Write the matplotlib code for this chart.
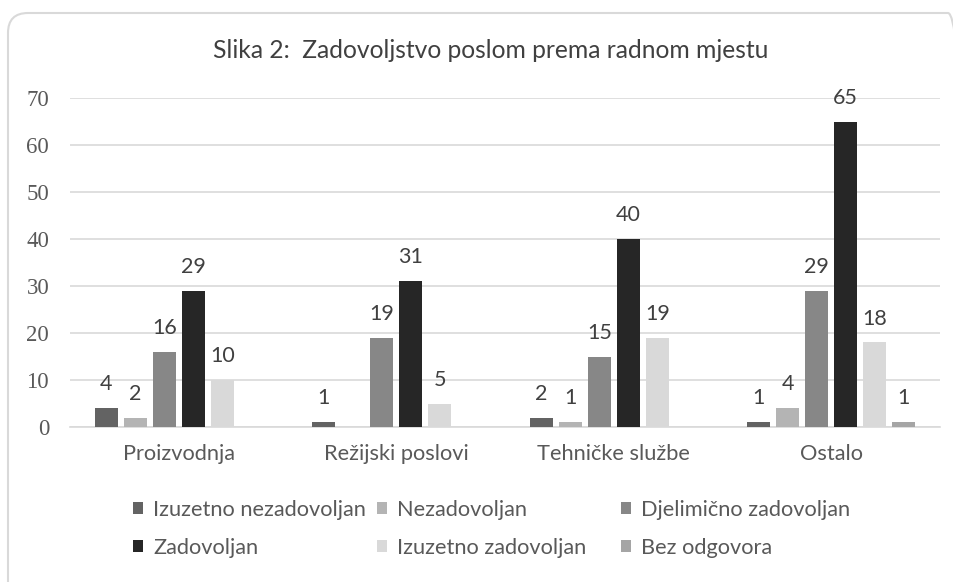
import matplotlib.pyplot as plt
from matplotlib.patches import FancyBboxPatch, Patch

# chart data
categories = ['Proizvodnja', 'Režijski poslovi', 'Tehničke službe', 'Ostalo']
series = ['Izuzetno nezadovoljan', 'Nezadovoljan', 'Djelimično zadovoljan',
          'Zadovoljan', 'Izuzetno zadovoljan', 'Bez odgovora']
izuzetno_nezadovoljan = [4, 1, 2, 1]
nezadovoljan = [2, 0, 1, 4]
djelimicno_zadovoljan = [16, 19, 15, 29]
zadovoljan = [29, 31, 40, 65]
izuzetno_zadovoljan = [10, 5, 19, 18]
bez_odgovora = [0, 0, 0, 1]
values = [izuzetno_nezadovoljan, nezadovoljan, djelimicno_zadovoljan,
          zadovoljan, izuzetno_zadovoljan, bez_odgovora]
colors = ['#636363', '#b4b4b4', '#878787', '#262626', '#d9d9d9', '#a5a5a5']
yticks = [0, 10, 20, 30, 40, 50, 60, 70]

sans = ['Lato', 'DejaVu Sans']
serif = ['Liberation Serif', 'DejaVu Serif']

fig = plt.figure(figsize=(9.54, 5.82), dpi=100)
ax = fig.add_axes([70/954, 155/582, 870/954, (427-98)/582])

# rounded frame around the whole chart (in inches), running off right/bottom
frame = FancyBboxPatch((0.08, -0.5), 9.6, 5.69 + 0.5,
                       boxstyle='round,pad=0,rounding_size=0.2',
                       transform=fig.dpi_scale_trans, fill=False,
                       edgecolor='#d9d9d9', linewidth=1.5)
fig.patches.append(frame)

step = 0.1333
width = 0.106
x = list(range(len(categories)))
for i in range(len(series)):
    pos = [xi + (i - 2.5) * step for xi in x]
    bars = ax.bar(pos, values[i], width=width, color=colors[i], zorder=3)
    labels = [str(v) if v > 0 else '' for v in values[i]]
    ax.bar_label(bars, labels=labels, padding=10, fontsize=15.5,
                 color='#404040', family=sans)

ax.set_xlim(-0.5, 3.5)
ax.set_ylim(0, 70)
ax.set_yticks(yticks)
ax.set_yticklabels([str(t) for t in yticks], family=serif, fontsize=16.5,
                   color='#595959')
ax.set_xticks(x)
ax.set_xticklabels(categories, family=sans, fontsize=15.7, color='#595959')
ax.tick_params(axis='both', length=0)
ax.tick_params(axis='x', pad=12)
ax.tick_params(axis='y', pad=15)
ax.grid(axis='y', color='#d9d9d9', linewidth=1.2, zorder=0)
for s in ['top', 'right', 'left']:
    ax.spines[s].set_visible(False)
ax.spines['bottom'].set_color('#d9d9d9')
ax.spines['bottom'].set_linewidth(1.2)

fig.text(491/954, 1 - 50/582, 'Slika 2:  Zadovoljstvo poslom prema radnom mjestu',
         ha='center', va='center', fontsize=17.7, color='#404040', family=sans)

# legend entries placed like in the original layout
leg_x = [133, 377, 621]
leg_y = [510, 548]
for k in range(len(series)):
    r, c = divmod(k, 3)
    h = Patch(facecolor=colors[k], edgecolor='none')
    leg = fig.legend([h], [series[k]], loc='center left',
                     bbox_to_anchor=(leg_x[c]/954, 1 - leg_y[r]/582),
                     frameon=False, handlelength=0.46, handleheight=0.46,
                     handletextpad=0.46, borderpad=0, borderaxespad=0,
                     prop={'family': sans, 'size': 15.7})
    for t in leg.get_texts():
        t.set_color('#595959')

fig.savefig('out.png', dpi=100)
